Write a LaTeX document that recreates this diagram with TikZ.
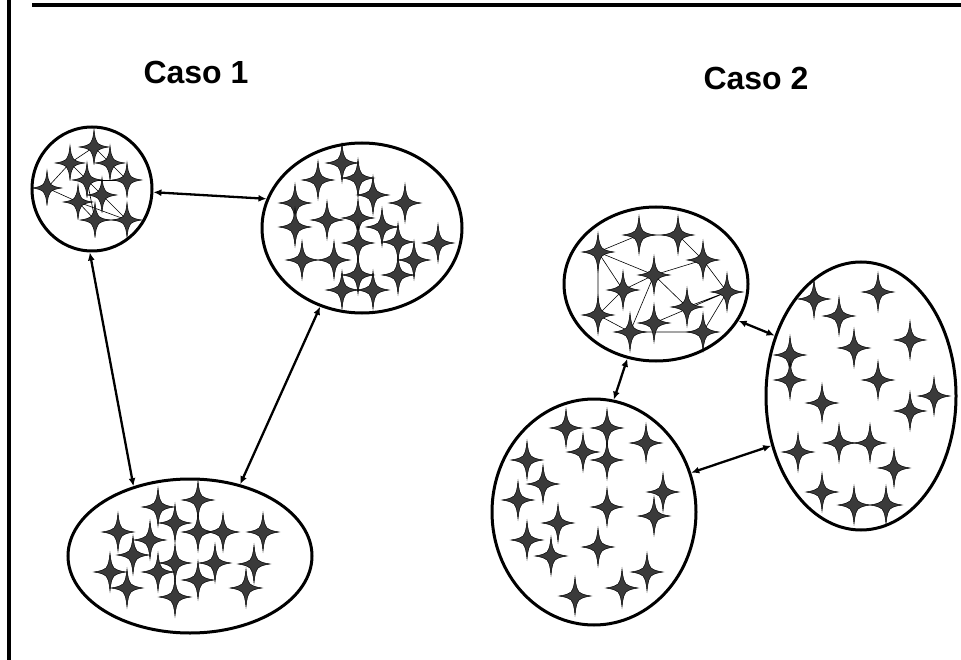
\documentclass[tikz,border=0pt]{standalone}
\usepackage{fontspec}
\setmainfont{Liberation Sans}
\usetikzlibrary{shapes.geometric,arrows.meta}
\definecolor{starfill}{RGB}{58,58,58}
\tikzset{
  sparkle/.pic={
    \filldraw[fill=starfill, draw=black, line width=0.5pt]
      (0,19) .. controls (1.3,8.5) .. (4,4) .. controls (8.5,1.3) .. (16,0)
      .. controls (8.5,-1.3) .. (4,-4) .. controls (1.3,-8.5) .. (0,-19)
      .. controls (-1.3,-8.5) .. (-4,-4) .. controls (-8.5,-1.3) .. (-16,0)
      .. controls (-8.5,1.3) .. (-4,4) .. controls (-1.3,8.5) .. cycle;
  },
  group/.style={ellipse, draw, line width=3pt, inner sep=0pt, outer sep=1.5pt},
  link/.style={line width=2.3pt, {Latex[length=8pt,width=7pt]}-{Latex[length=8pt,width=7pt]}},
  web/.style={line width=0.6pt},
  title/.style={font=\bfseries\fontsize{32}{38}\selectfont, inner sep=0pt},
  frame/.style={line width=3.5pt}
}
\begin{document}
\begin{tikzpicture}[x=1pt,y=-1pt]
\useasboundingbox (0,0) rectangle (961,660);

% page frame
\draw[frame] (9,0) -- (9,660);
\draw[frame] (32,5) -- (961,5);

% headings
\node[title] (t1) at (196,72) {Caso 1};
\node[title] (t2) at (756,78) {Caso 2};

% clusters
\node[group, minimum width=120pt, minimum height=124pt] (c1) at (92,189) {};
\node[group, minimum width=200pt, minimum height=170pt] (c2) at (362,228) {};
\node[group, minimum width=244pt, minimum height=154pt] (c3) at (190,556) {};
\node[group, minimum width=184pt, minimum height=154pt] (d1) at (656,284) {};
\node[group, minimum width=190pt, minimum height=268pt] (d2) at (861,396) {};
\node[group, minimum width=204pt, minimum height=226pt] (d3) at (594,512) {};

% members of the dense cluster (Caso 1)
\foreach \n/\x/\y in {a1/94/147, a2/70/163, a3/110/163, a4/87/180, a5/47/188,
  a6/127/180, a7/102/195, a8/78/202, a9/95/220, a10/127/220}
  \coordinate (\n) at (\x,\y);
\draw[web] (a5) -- (a2) -- (a1) -- (a3) -- (a6);
\draw[web] (a2) -- (a7) -- (a10) -- (a9) -- (a8) -- (a10);
\draw[web] (a4) -- (a6);
\draw[web] (a5) -- (a8);
\draw[web] (a4) -- (a9);
\foreach \n in {a1,a2,a3,a4,a5,a6,a7,a8,a9,a10}
  \pic[scale=0.92] at (\n) {sparkle};

% members of the linked cluster (Caso 2)
\foreach \n/\x/\y in {e1/639/235, e2/678/235, e3/598/252, e4/703/260, e5/654/275,
  e6/623/290, e7/727/292, e8/687/307, e9/598/315, e10/654/323, e11/630/332, e12/703/332}
  \coordinate (\n) at (\x,\y);
\draw[web] (e3) -- (e1) -- (e2) -- (e4) -- (e7) -- (e12);
\draw[web] (e3) -- (e9) -- (e6) -- (e3) -- (e5) -- (e4);
\draw[web] (e6) -- (e5) -- (e11);
\draw[web] (e5) -- (e8) -- (e7) -- (e10);
\draw[web] (e9) -- (e11) -- (e12);
\foreach \n in {e1,e2,e3,e4,e5,e6,e7,e8,e9,e10,e11,e12}
  \pic at (\n) {sparkle};

% loose members
\foreach \x/\y in {342/163, 318/180, 358/178, 373/195, 295/203, 405/203, 327/220,
  358/218, 295/227, 382/227, 398/242, 438/243, 358/243, 302/260, 334/260, 414/260,
  358/275, 398/275, 342/290, 373/290}
  \pic at (\x,\y) {sparkle};
\foreach \x/\y in {198/500, 158/507, 175/523, 118/532, 198/532, 223/532, 263/532,
  150/540, 133/555, 175/563, 215/563, 254/564, 110/572, 158/572, 198/580, 127/588,
  246/588, 175/597}
  \pic at (\x,\y) {sparkle};
\foreach \x/\y in {814/299, 878/292, 839/316, 910/340, 854/348, 790/355, 790/380,
  878/380, 822/403, 934/396, 910/411, 798/452, 839/443, 870/443, 894/468, 822/492,
  854/505, 886/505}
  \pic at (\x,\y) {sparkle};
\foreach \x/\y in {566/428, 607/428, 646/443, 583/452, 607/460, 527/460, 543/484,
  663/492, 518/500, 607/507, 654/516, 558/523, 527/540, 598/547, 551/556, 647/572,
  622/588, 575/596}
  \pic at (\x,\y) {sparkle};

% relations between clusters
\draw[link] (c1.-3) -- (c2.163);
\draw[link] (c1.-92) -- (c3.129);
\draw[link] (c2.-118) -- (c3.55);
\draw[link] (d1.-24) -- (d2.145);
\draw[link] (d1.-111) -- (d3.80);
\draw[link] (d3.22) -- (d2.-151);
\end{tikzpicture}
\end{document}
